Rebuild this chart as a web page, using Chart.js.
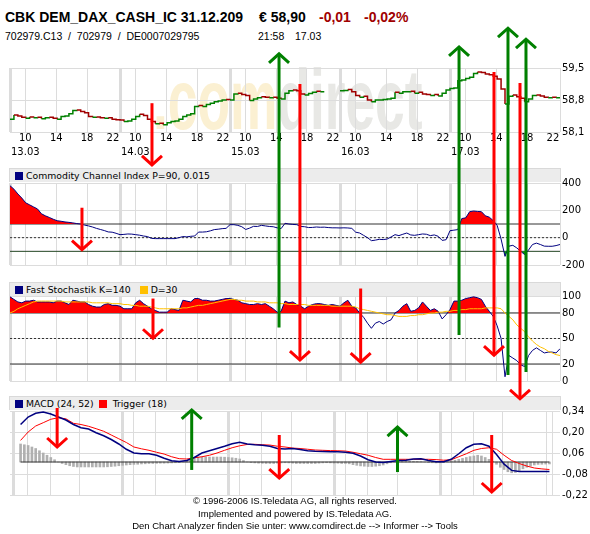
<!DOCTYPE html>
<html lang="de">
<head>
<meta charset="utf-8">
<title>CBK DEM_DAX_CASH_IC</title>
<script src="https://cdn.jsdelivr.net/npm/chart.js@4.4.1/dist/chart.umd.min.js"></script>
<style>
  body { margin: 0; background: #fff; }
  #page { position: relative; width: 590px; height: 534px; overflow: hidden; background: #fff; color: #000; }
  #page canvas { position: absolute; left: 0; }
  .txt { position: absolute; white-space: pre; font-family: "Liberation Sans", Arial, sans-serif; }
  .head { top: 9px; font-size: 14px; font-weight: bold; line-height: 16px; }
  .sub { top: 30px; font-size: 10.5px; line-height: 12px; }
  .neg { color: #a00000; }
  .band { position: absolute; left: 9px; width: 550px; height: 13px; background: #ececec; border: 1px solid #d9d9d9; border-bottom: 0; font: 9.3px "DejaVu Sans", sans-serif; line-height: 13px; white-space: nowrap; }
  .band i { display: inline-block; width: 8px; height: 8px; vertical-align: -1px; margin: 0 3px 0 5px; }
  .foot { left: 0; width: 590px; top: 495px; text-align: center; font-size: 9.5px; line-height: 12.5px; }
  #arrows { z-index: 5; }
</style>
</head>
<body>
<div id="page">
  <div class="txt head" style="left:5px">CBK DEM_DAX_CASH_IC 31.12.209</div>
  <div class="txt head" style="left:259px">€ 58,90</div>
  <div class="txt head neg" style="left:319px">-0,01</div>
  <div class="txt head neg" style="left:364px">-0,02%</div>
  <div class="txt sub" style="left:5px">702979.C13  /  702979  /  DE0007029795</div>
  <div class="txt sub" style="left:258px">21:58</div>
  <div class="txt sub" style="left:295px">17.03</div>

  <canvas id="price-chart" width="590" height="110" style="top:55px"></canvas>

  <div class="band" style="top:168px"><i style="background:#000080"></i>Commodity Channel Index P=90, 0.015</div>
  <canvas id="cci-chart" width="590" height="105" style="top:170px"></canvas>

  <div class="band" style="top:282px"><i style="background:#000080"></i>Fast Stochastik K=140<i style="background:#ffc000;margin-left:9px"></i>D=30</div>
  <canvas id="stoch-chart" width="590" height="107" style="top:283px"></canvas>

  <div class="band" style="top:396px"><i style="background:#000080"></i>MACD (24, 52)<i style="background:#ff0000;margin-left:5px;margin-right:6px"></i>Trigger (18)</div>
  <canvas id="macd-chart" width="590" height="105" style="top:398px"></canvas>

  <div class="txt foot">© 1996-2006 IS.Teledata AG, all rights reserved.
Implemented and powered by IS.Teledata AG.
Den Chart Analyzer finden Sie unter: www.comdirect.de --> Informer --> Tools</div>

  <canvas id="arrows" width="590" height="534" style="top:0"></canvas>
</div>

<script>
// axis: 5 trading days, 14 session hours each (08:00 - 22:00)
const days = ['13.03', '14.03', '15.03', '16.03', '17.03'];
const hourLabels = ['10', '14', '18', '22'];
const hourOffsets = [1.95, 5.9, 9.8, 13.1];
const SESSION = 14;
const STEP = 0.5;       // price, CCI, stochastic, histogram samples
const MACD_STEP = 1;    // MACD / trigger samples

const price = [
    58.38, 58.47, 58.45, 58.42, 58.40, 58.43, 58.41, 58.42, 58.39, 58.41,
    58.42, 58.40, 58.38, 58.44, 58.45, 58.50, 58.57, 58.58, 58.55, 58.52,
    58.44, 58.42, 58.43, 58.41, 58.40, 58.41, 58.38, 58.37, 58.36, 58.33,
    58.34, 58.38, 58.44, 58.49, 58.46, 58.38, 58.33, 58.28, 58.29, 58.26,
    58.30, 58.33, 58.34, 58.38, 58.44, 58.47, 58.50, 58.66, 58.68, 58.66,
    58.70, 58.73, 58.76, 58.78, 58.80, 58.81, 58.80, 58.93, 58.95, 58.92,
    58.90, 58.79, 58.82, 58.85, 58.87, 58.86, 58.85, 58.86, 58.84, 58.82,
    58.95, 59.00, 59.02, 59.00, 58.93, 58.91, 58.94, 58.97, 58.99, 58.98,
    58.98, null, null, null, 59.00, 59.01, 59.03, 58.98, 58.90, 58.86,
    58.88, 58.80, 58.76, 58.80, 58.80, 58.81, 58.82, 58.84, 58.97, 58.95,
    58.98, 58.98, 58.99, 58.95, 58.97, 58.93, 58.92, 58.90, 58.92, 58.89,
    58.95, 59.02, 59.05, 59.06, 59.22, 59.24, 59.27, 59.30, 59.38, 59.41,
    59.40, 59.37, 59.35, 59.32, 59.26, 59.04, 58.71, 58.88, 58.91, 58.87,
    58.84, 58.76, 58.82, 58.90, 58.91, 58.89, 58.86, 58.85, 58.86, 58.85,
    58.86,
];

const cci = [
    380, 355, 320, 290, 255, 240, 225, 210, 175, 160,
    148, 135, 124, 120, 115, 112, 108, 103, 100, 92,
    86, 78, 68, 60, 52, 42, 40, 32, 22, 24,
    27, 26, 22, 18, 12, 8, -5, -7, -7, -7,
    -7, -7, -7, 0, 8, 6, 10, 12, 41, 41,
    43, 50, 59, 62, 66, 68, 95, 95, 90, 80,
    60, 70, 83, 82, 90, 86, 82, 80, 72, 66,
    105, 100, 97, 95, 82, 80, 74, 75, 78, 76,
    77, 74, 72, 72, 71, 72, 71, 68, 40, 34,
    17, 0, -22, -18, -12, -14, -10, 5, 22, 15,
    25, 34, 20, 17, 22, 27, 25, 15, 20, 10,
    -20, -15, 51, 55, 59, 140, 145, 190, 195, 192,
    190, 160, 150, 125, 90, -10, -137, -62, -56, -75,
    -100, -124, -90, -50, -40, -50, -62, -63, -63, -58,
    -50,
];

const stochK = [
    99, 96, 93, 92, 94, 94, 95, 93, 93, 93,
    93, 92, 94, 94, 92, 90, 95, 94, 93, 93,
    90, 88, 87, 87, 90, 91, 89, 89, 88, 85,
    85, 85, 92, 95, 91, 88, 85, 83, 81, 81,
    81, 85, 84, 83, 95, 94, 93, 97, 97, 95,
    95, 94, 94, 95, 96, 97, 97, 96, 95, 92,
    91, 90, 90, 91, 90, 91, 88, 85, 81, 82,
    94, 92, 93, 90, 88, 85, 88, 90, 91, 91,
    90, 89, 90, 89, 88, 92, 95, 88, 86, 80,
    75, 68, 62, 68, 70, 67, 70, 72, 80, 83,
    88, 91, 82, 83, 86, 93, 88, 83, 85, 82,
    73, 78, 84, 94, 94, 95, 97, 98, 99, 98,
    96, 88, 82, 76, 65, 50, 5, 30, 27, 24,
    19, 17, 30, 36, 39, 36, 33, 34, 34, 33,
    38,
];

const stochD = [
    80, 82, 85, 87, 89, 91, 93, 94, 94, 94,
    94, 94, 94, 94, 93, 93, 93, 93, 93, 93,
    93, 92, 92, 92, 92, 92, 91, 91, 91, 90,
    90, 89, 89, 88, 88, 88, 87, 86, 85, 85,
    85, 85, 85, 85, 86, 86, 87, 88, 89, 89,
    90, 91, 92, 93, 94, 95, 96, 96, 95, 95,
    94, 94, 94, 93, 93, 93, 92, 92, 92, 91,
    91, 90, 90, 90, 90, 90, 89, 89, 89, 89,
    89, 89, 88, 88, 88, 88, 88, 88, 87, 85,
    84, 83, 82, 81, 80, 79, 78, 78, 77, 76,
    76, 76, 77, 77, 78, 78, 79, 80, 80, 81,
    81, 82, 82, 83, 83, 84, 84, 85, 85, 85,
    85, 86, 86, 86, 86, 85, 80, 76, 72, 66,
    62, 58, 52, 47, 43, 40, 38, 35, 33, 31,
    30,
];

const macd = [
    0.25, 0.30, 0.325, 0.333, 0.32, 0.30, 0.28, 0.25, 0.228, 0.22,
    0.195, 0.175, 0.15, 0.12, 0.085, 0.06, 0.055, 0.055, 0.045, 0.025,
    0.008, 0.003, 0.01, 0.03, 0.06, 0.075, 0.09, 0.105, 0.122, 0.132,
    0.12, 0.115, 0.112, 0.105, 0.09, 0.086, 0.09, 0.084, 0.075, 0.071,
    0.07, 0.069, 0.069, 0.065, 0.058, 0.04, 0.015, 0.0, -0.004, 0.004,
    0.01, 0.011, 0.02, 0.022, 0.01, 0.002, 0.002, 0.018, 0.055, 0.095,
    0.118, 0.122, 0.105, 0.05, -0.014, -0.056, -0.064, -0.064, -0.064, -0.064,
    -0.064,
];

const trigger = [
    0.144, 0.20, 0.24, 0.262, 0.285, 0.295, 0.288, 0.258, 0.25, 0.238,
    0.222, 0.205, 0.18, 0.155, 0.13, 0.10, 0.088, 0.078, 0.065, 0.053,
    0.035, 0.022, 0.02, 0.028, 0.035, 0.045, 0.06, 0.078, 0.095, 0.108,
    0.117, 0.118, 0.115, 0.113, 0.105, 0.10, 0.093, 0.09, 0.085, 0.08,
    0.078, 0.076, 0.075, 0.073, 0.065, 0.055, 0.045, 0.03, 0.018, 0.018,
    0.018, 0.018, 0.018, 0.018, 0.018, 0.016, 0.012, 0.015, 0.035, 0.055,
    0.078, 0.09, 0.095, 0.085, 0.045, 0.01, -0.01, -0.027, -0.04, -0.046,
    -0.05,
];

const histogram = [
    0.12, 0.115, 0.11, 0.1, 0.09, 0.075, 0.06, 0.045, 0.03, 0.015,
    0, -0.01, -0.018, -0.025, -0.03, -0.033, -0.033, -0.033, -0.033, -0.033,
    -0.033, -0.033, -0.033, -0.032, -0.03, -0.028, -0.025, -0.022, -0.02, -0.018,
    -0.016, -0.015, -0.013, -0.012, -0.01, -0.01, -0.009, -0.008, -0.008, -0.007,
    -0.006, -0.005, -0.003, 0, 0.01, 0.02, 0.028, 0.032, 0.034, 0.034,
    0.033, 0.033, 0.033, 0.033, 0.032, 0.03, 0.028, 0.025, 0.02, 0.01,
    0, -0.004, -0.006, -0.008, -0.009, -0.01, -0.01, -0.01, -0.008, -0.006,
    -0.005, -0.006, -0.008, -0.01, -0.01, -0.01, -0.01, -0.01, -0.01, -0.008,
    -0.006, -0.005, -0.006, -0.008, -0.008, -0.01, -0.01, -0.012, -0.018, -0.022,
    -0.026, -0.028, -0.03, -0.03, -0.028, -0.025, -0.02, -0.012, -0.005, 0,
    0.004, 0.006, 0.006, 0.005, 0.005, 0.004, 0.003, 0, -0.003, -0.005,
    -0.006, -0.005, -0.003, 0.003, 0.008, 0.012, 0.018, 0.024, 0.03, 0.036,
    0.04, 0.045, 0.04, 0.03, 0.018, 0.005, -0.015, -0.035, -0.05, -0.065,
    -0.072, -0.07, -0.06, -0.045, -0.035, -0.027, -0.02, -0.016, -0.015, -0.014,
    -0.013,
];

const priceTicks = [58.1, 58.8, 59.5];
const cciTicks = [-200, 0, 200, 400];
const stochTicks = [0, 20, 50, 80, 100];
const macdTicks = [-0.22, -0.08, 0.06, 0.20, 0.34];

const cciBands = [100, -100];
const cciMid = 0;
const stochBands = [80, 20];
const stochMid = 50;
const macdZero = 0;

// hand drawn signal arrows: x in session hours, ends as [panel, value]
const signals = [
    {color: 'green', x: 34.24, from: ['stoch', 63], to: ['price', 59.81]},
    {color: 'green', x: 57.15, from: ['stoch', 54], to: ['price', 59.96]},
    {color: 'green', x: 63.38, from: ['stoch', 7], to: ['price', 60.37]},
    {color: 'green', x: 65.67, from: ['stoch', 10.5], to: ['price', 60.13]},
    {color: 'green', x: 22.65, from: ['macd', -0.053], to: ['macd', 0.347]},
    {color: 'green', x: 49.89, from: ['macd', -0.067], to: ['macd', 0.233]},
    {color: 'red', x: 18.07, from: ['price', 58.73], to: ['price', 57.38]},
    {color: 'red', x: 9.16, from: ['cci', 219], to: ['cci', -88]},
    {color: 'red', x: 18.2, from: ['stoch', 97], to: ['stoch', 50.3]},
    {color: 'red', x: 36.9, from: ['price', 59.15], to: ['stoch', 24.6]},
    {color: 'red', x: 44.63, from: ['stoch', 108.8], to: ['stoch', 22.2]},
    {color: 'red', x: 61.6, from: ['price', 59.41], to: ['stoch', 30.4]},
    {color: 'red', x: 64.91, from: ['price', 59.17], to: ['stoch', -21]},
    {color: 'red', x: 34.24, from: ['macd', 0.18], to: ['macd', -0.107]},
    {color: 'red', x: 62.36, from: ['macd', 0.18], to: ['macd', -0.2]},
    {color: 'red', x: 4.84, from: ['macd', 0.36], to: ['macd', 0.1]},
];

const TICK_FONT = '"DejaVu Sans", sans-serif';
const GRID = '#dcdcdc';
const LEVEL = '#333333';
const NAVY = '#000080';
const ARROW_COLORS = {green: '#008000', red: '#ff0000'};
const X_MAX = days.length * SESSION;

// x ticks: day separators (thick), hour lines, "22" label without line
const xTicks = [];
days.forEach((day, d) => {
    xTicks.push({value: d * SESSION, label: '', kind: 'day'});
    hourLabels.forEach((hour, k) => {
        xTicks.push({
            value: d * SESSION + hourOffsets[k],
            label: k === 0 ? [hour, day] : hour,
            kind: k === hourLabels.length - 1 ? 'bare' : 'hour',
        });
    });
});
xTicks.push({value: X_MAX, label: '', kind: 'hour'});

function xAxis(height, showLabels) {
    return {
        type: 'linear',
        min: 0,
        max: X_MAX,
        afterBuildTicks: (scale) => {
            scale.ticks = xTicks.map((t) => ({value: t.value}));
        },
        afterFit: (scale) => {
            scale.height = height;
        },
        border: {display: false},
        grid: {
            drawTicks: false,
            color: (ctx) => (xTicks[ctx.index] && xTicks[ctx.index].kind === 'bare' ? 'rgba(0,0,0,0)' : GRID),
            lineWidth: (ctx) => (xTicks[ctx.index] && xTicks[ctx.index].kind === 'day' ? 3 : 1),
        },
        ticks: {
            display: showLabels,
            autoSkip: false,
            maxRotation: 0,
            padding: 0,
            color: '#000',
            font: {family: TICK_FONT, size: 10, lineHeight: 1.35},
            callback: (value, index) => (xTicks[index] ? xTicks[index].label : ''),
        },
    };
}

function yAxis(values, format) {
    return {
        type: 'linear',
        position: 'right',
        min: values[0],
        max: values[values.length - 1],
        afterBuildTicks: (scale) => {
            scale.ticks = values.map((v) => ({value: v}));
        },
        afterFit: (scale) => {
            scale.width = 30;
        },
        border: {display: false},
        grid: {drawTicks: false, color: GRID, lineWidth: 1},
        ticks: {
            padding: 2,
            color: '#000',
            font: {family: TICK_FONT, size: 10},
            callback: format,
        },
    };
}

const decimals = (n) => (v) => v.toFixed(n).replace('.', ',');

function series(values, step) {
    return values.map((v, i) => ({x: i * step, y: v}));
}

function levelLine(value, dashed) {
    return {
        data: [{x: 0, y: value}, {x: X_MAX, y: value}],
        borderColor: LEVEL,
        borderWidth: 1,
        borderDash: dashed ? [2, 2] : [],
        fill: false,
    };
}

const watermark = {
    id: 'watermark',
    beforeDraw(chart) {
        const {ctx, chartArea: area} = chart;
        const parts = [['.com', '#fbf0d2'], ['direct', '#e8e8e5']];

        ctx.save();
        ctx.font = 'bold 86px "Liberation Sans", Arial, sans-serif';
        ctx.textBaseline = 'alphabetic';
        const natural = ctx.measureText(parts.map((p) => p[0]).join('')).width;
        ctx.translate(area.left + area.width * 0.26, area.bottom - 3);
        ctx.scale((area.width * 0.49) / natural, 1);

        let x = 0;
        parts.forEach(([text, color]) => {
            ctx.fillStyle = color;
            ctx.fillText(text, x, 0);
            x += ctx.measureText(text).width;
        });
        ctx.restore();
    },
};

function makeChart(id, datasets, y, xHeight, showX, plugins) {
    return new Chart(document.getElementById(id), {
        type: 'line',
        data: {datasets},
        options: {
            responsive: false,
            animation: false,
            events: [],
            layout: {padding: {left: 10, top: 13, right: 0, bottom: 0}},
            elements: {point: {radius: 0}, line: {tension: 0}},
            plugins: {legend: {display: false}, tooltip: {enabled: false}},
            scales: {x: xAxis(xHeight, showX), y},
        },
        plugins: plugins || [],
    });
}

const charts = {};

charts.price = makeChart('price-chart', [
    {
        data: series(price, STEP),
        stepped: true,
        borderWidth: 1.5,
        borderColor: '#a00000',
        spanGaps: false,
        segment: {
            borderColor: (ctx) => (ctx.p1.parsed.y >= ctx.p0.parsed.y ? '#008000' : '#a00000'),
        },
    },
], yAxis(priceTicks, decimals(1)), 33, true, [watermark]);

charts.cci = makeChart('cci-chart', [
    {
        data: series(cci, STEP),
        borderColor: NAVY,
        borderWidth: 1,
        fill: {target: {value: cciBands[0]}, above: '#ff0000', below: 'rgba(0,0,0,0)'},
    },
    {
        data: series(cci, STEP),
        borderWidth: 0,
        borderColor: 'rgba(0,0,0,0)',
        fill: {target: {value: cciBands[1]}, above: 'rgba(0,0,0,0)', below: '#00a000'},
    },
    ...cciBands.map((v) => levelLine(v, false)),
    levelLine(cciMid, true),
], yAxis(cciTicks, (v) => String(v)), 10, false);

charts.stoch = makeChart('stoch-chart', [
    {
        data: series(stochD, STEP),
        borderColor: '#ffc000',
        borderWidth: 1,
        fill: false,
    },
    {
        data: series(stochK, STEP),
        borderColor: NAVY,
        borderWidth: 1,
        fill: {target: {value: stochBands[0]}, above: '#ff0000', below: 'rgba(0,0,0,0)'},
    },
    ...stochBands.map((v) => levelLine(v, false)),
    levelLine(stochMid, true),
], yAxis(stochTicks, (v) => String(v)), 9, false);

charts.macd = makeChart('macd-chart', [
    {
        data: series(macd, MACD_STEP),
        borderColor: NAVY,
        borderWidth: 1.5,
        fill: false,
    },
    {
        data: series(trigger, MACD_STEP),
        borderColor: '#ff0000',
        borderWidth: 1,
        fill: false,
    },
    levelLine(macdZero, false),
    {
        type: 'bar',
        data: series(histogram, STEP),
        backgroundColor: '#b0b0b0',
        barThickness: 2,
    },
], yAxis(macdTicks, decimals(2)), 8, false);

function toPage(panel, x, value) {
    const chart = charts[panel];

    return {
        x: chart.canvas.offsetLeft + chart.scales.x.getPixelForValue(x),
        y: chart.canvas.offsetTop + chart.scales.y.getPixelForValue(value),
    };
}

function drawSignals() {
    const ctx = document.getElementById('arrows').getContext('2d');

    ctx.lineWidth = 3;
    ctx.lineCap = 'butt';
    ctx.lineJoin = 'miter';

    signals.forEach((s) => {
        const tail = toPage(s.from[0], s.x, s.from[1]);
        const tip = toPage(s.to[0], s.x, s.to[1]);
        const dir = tip.y > tail.y ? 1 : -1;

        ctx.strokeStyle = ARROW_COLORS[s.color];
        ctx.beginPath();
        ctx.moveTo(tail.x, tail.y);
        ctx.lineTo(tip.x, tip.y);
        ctx.stroke();

        ctx.beginPath();
        ctx.moveTo(tip.x - 10, tip.y - dir * 9);
        ctx.lineTo(tip.x, tip.y);
        ctx.lineTo(tip.x + 10, tip.y - dir * 9);
        ctx.stroke();
    });
}

drawSignals();
</script>
</body>
</html>
